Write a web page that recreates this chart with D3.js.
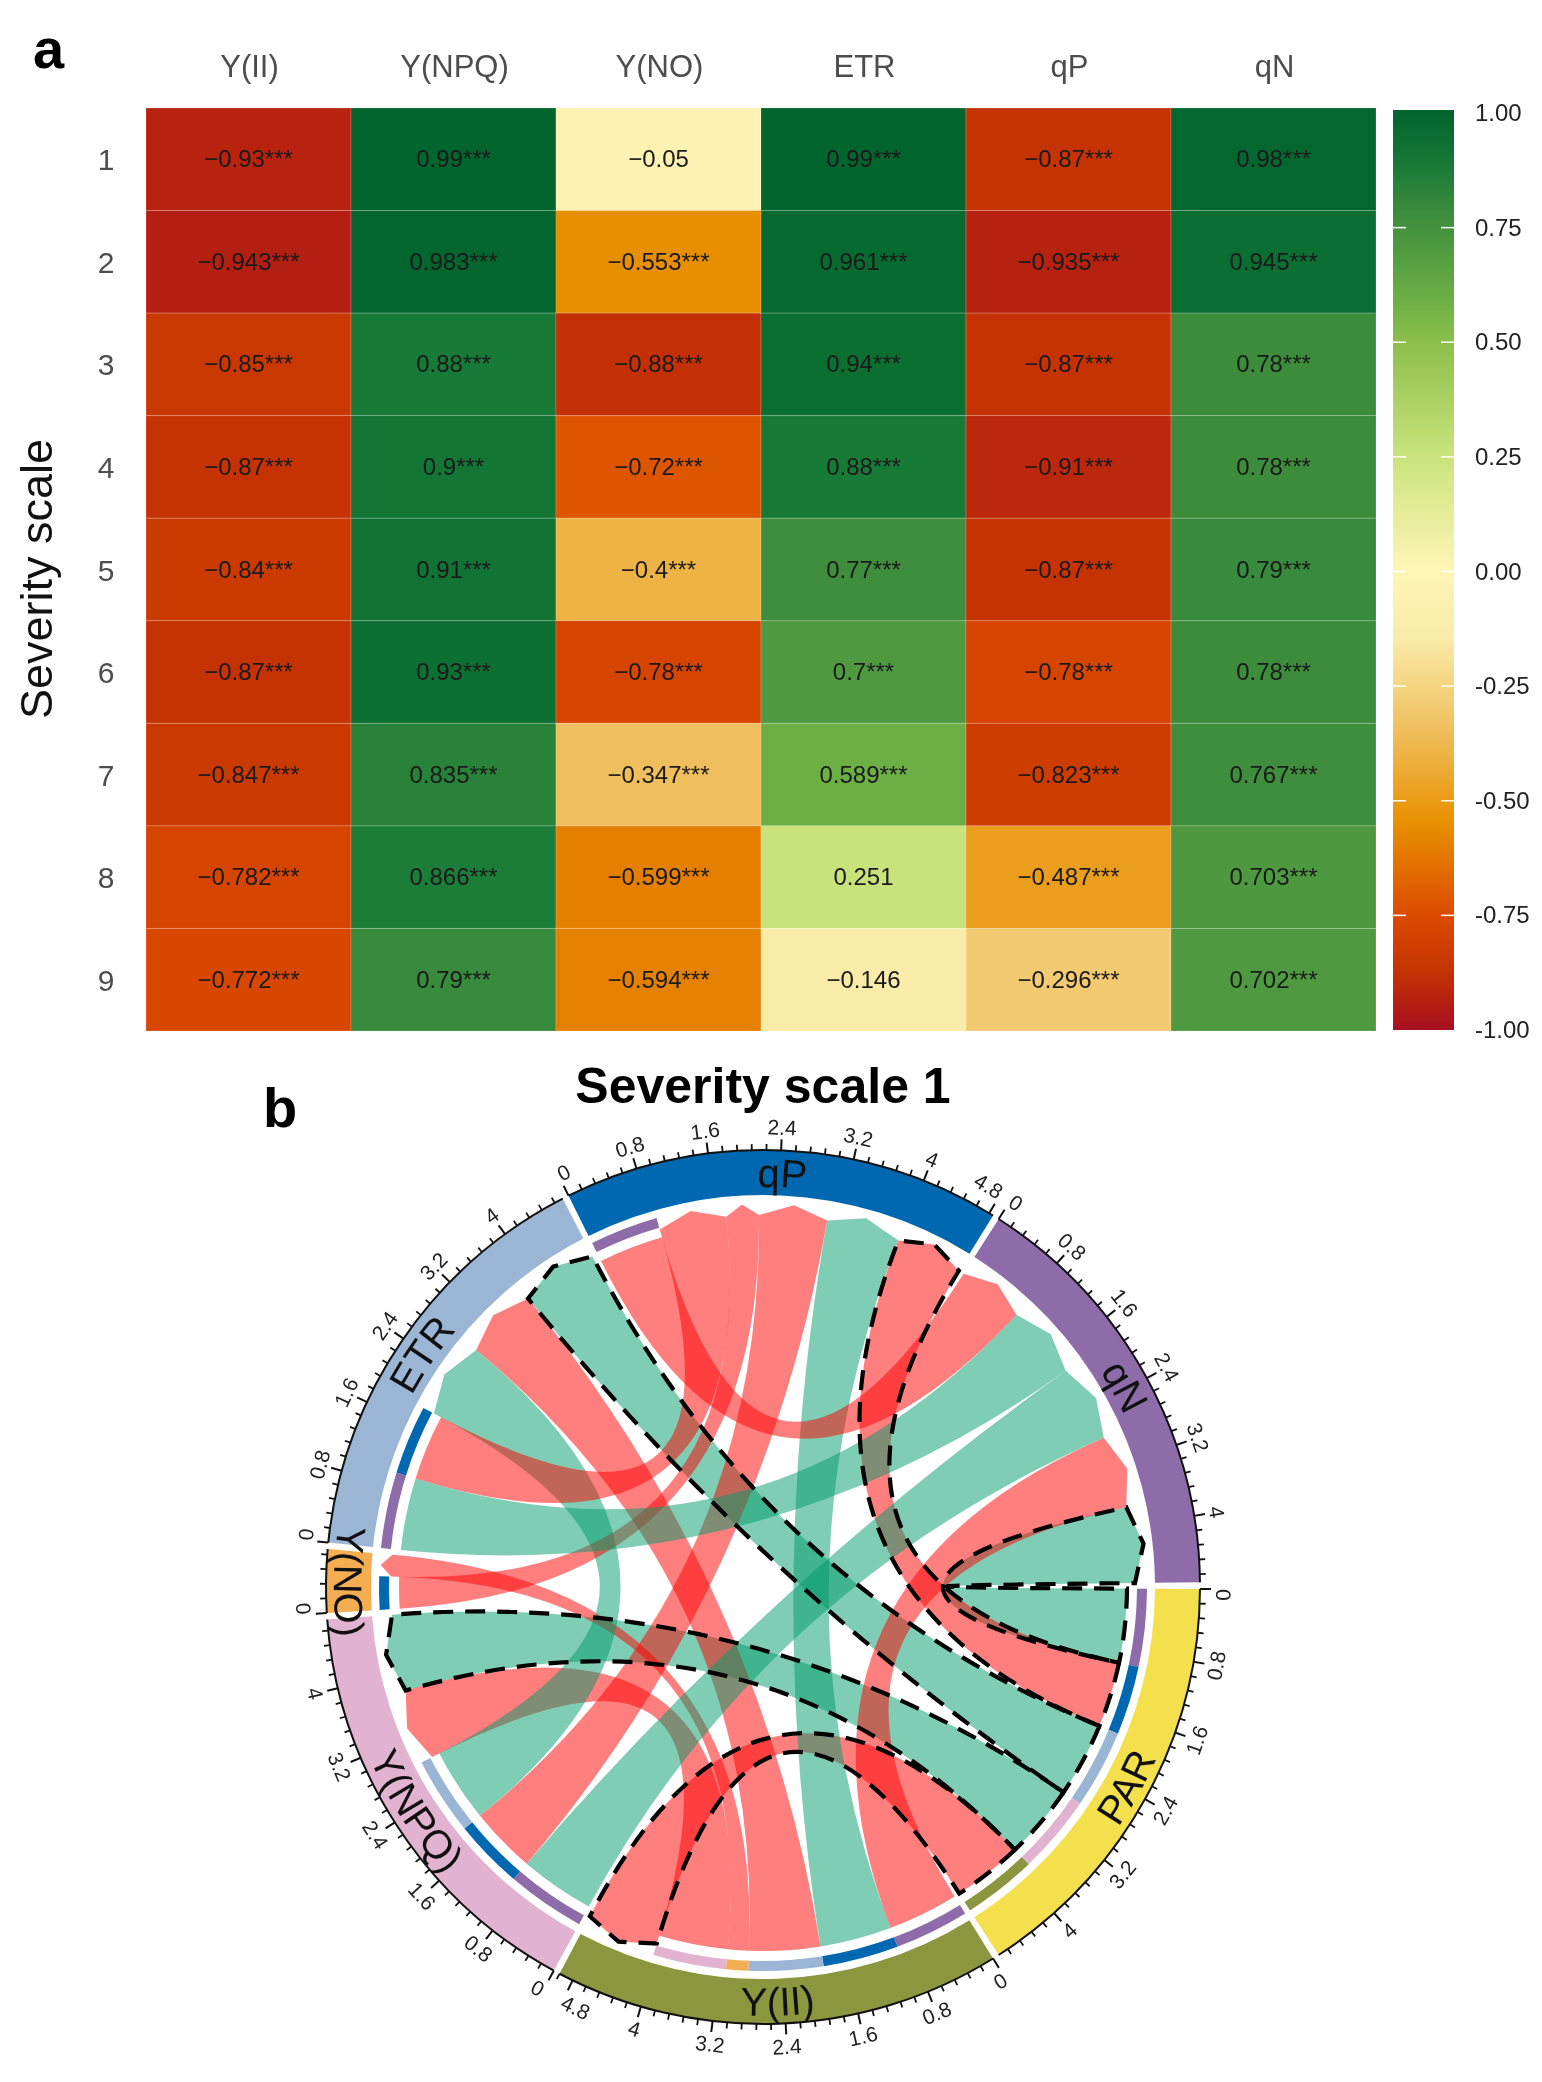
<!DOCTYPE html>
<html><head><meta charset="utf-8">
<script src="https://cdn.jsdelivr.net/npm/d3@7"></script>
<style>html,body{margin:0;padding:0;background:#fff}svg{display:block;filter:blur(0.55px)}text{font-family:"Liberation Sans",Arial,sans-serif}</style>
</head><body><svg id="c" width="1542" height="2082"></svg>
<script>
// ---- heat map data ----
const heatColumns = ["Y(II)","Y(NPQ)","Y(NO)","ETR","qP","qN"];
const heatRows = ["1","2","3","4","5","6","7","8","9"];
const colYII  = [-0.93,-0.943,-0.85,-0.87,-0.84,-0.87,-0.847,-0.782,-0.772];
const colYNPQ = [0.99,0.983,0.88,0.9,0.91,0.93,0.835,0.866,0.79];
const colYNO  = [-0.05,-0.553,-0.88,-0.72,-0.4,-0.78,-0.347,-0.599,-0.594];
const colETR  = [0.99,0.961,0.94,0.88,0.77,0.7,0.589,0.251,-0.146];
const colQP   = [-0.87,-0.935,-0.87,-0.91,-0.87,-0.78,-0.823,-0.487,-0.296];
const colQN   = [0.98,0.945,0.78,0.78,0.79,0.78,0.767,0.703,0.702];
const notSignificant = ["0,2","7,3","8,3"]; // row,col without stars
const legendTicks = [1,0.75,0.5,0.25,0,-0.25,-0.5,-0.75,-1];
const colourStops = [-1,-0.93,-0.85,-0.75,-0.55,-0.35,-0.15,0,0.25,0.5,0.59,0.7,0.78,0.88,1];
const colourValues = ["#A50F22","#B8230F","#C93800","#DC4B00","#E89000","#F0BE5C","#F9EBA8","#FFF6B5","#C9E37C","#8ABE4A","#6CAF45","#4F9A40","#3C8C3C","#177A37","#00632D"];
// ---- chord data ----
const sectorNames = ["PAR","Y(II)","Y(NPQ)","Y(NO)","ETR","qP","qN"];
const sectorColours = ["#F4E04D","#8C963E","#E2B3D1","#F5AD52","#9BB5D5","#0068B0","#8E6CA9"];
const linkFrom = ["PAR","PAR","PAR","PAR","PAR","Y(II)","Y(II)","Y(II)","Y(II)","Y(II)","Y(NPQ)","Y(NPQ)","Y(NPQ)","Y(NO)","ETR","ETR","qP"];
const linkTo   = ["qN","qP","ETR","Y(NPQ)","Y(II)","qN","qP","ETR","Y(NO)","Y(NPQ)","qN","qP","ETR","qP","qN","qP","qN"];
const linkR    = [0.98,-0.87,0.99,0.99,-0.93,-0.94,0.95,-0.94,-0.28,-0.92,0.99,-0.88,0.98,-0.42,0.96,-0.87,-0.86];
const majorStep = 0.8, minorStep = 0.16;

const svg = d3.select("#c");
// ---- panel a ----
const heatCols = [colYII,colYNPQ,colYNO,colETR,colQP,colQN];
const x = d3.scaleBand().domain(heatColumns).range([146,1376]);
const y = d3.scaleBand().domain(heatRows).range([108,1031]);
const colour = d3.scaleLinear().domain(colourStops).range(colourValues).clamp(true);
const g = svg.append("g");
heatColumns.forEach((c,ci)=>heatRows.forEach((r,ri)=>{
  const v = heatCols[ci][ri];
  g.append("rect").attr("x",x(c)).attr("y",y(r)).attr("width",x.bandwidth()).attr("height",y.bandwidth())
    .attr("fill",colour(v)).attr("stroke","#fff").attr("stroke-opacity",0.18).attr("stroke-width",1);
  const star = notSignificant.includes(ri+","+ci) ? "" : "***";
  g.append("text").attr("x",x(c)+x.bandwidth()/2).attr("y",y(r)+y.bandwidth()/2+8).attr("text-anchor","middle")
    .attr("font-size",24).attr("fill","#1a1a1a").text((v<0?"\u2212":"")+Math.abs(v)+star);
}));
heatColumns.forEach(c=>g.append("text").attr("x",x(c)+x.bandwidth()/2+1).attr("y",77).attr("text-anchor","middle")
  .attr("font-size",31).attr("fill","#4d4d4d").text(c));
heatRows.forEach(r=>g.append("text").attr("x",106).attr("y",y(r)+y.bandwidth()/2+11).attr("text-anchor","middle")
  .attr("font-size",30).attr("fill","#4d4d4d").text(r));
g.append("text").attr("transform","translate(52,579) rotate(-90)").attr("text-anchor","middle").attr("font-size",45).attr("fill","#111").text("Severity scale");
svg.append("text").attr("x",33).attr("y",68).attr("font-size",56).attr("font-weight","bold").attr("fill","#000").text("a");
svg.append("text").attr("x",263).attr("y",1127).attr("font-size",56).attr("font-weight","bold").attr("fill","#000").text("b");
// legend
const ly = d3.scaleLinear().domain([1,-1]).range([113,1030]);
const defs = svg.append("defs");
const lg = defs.append("linearGradient").attr("id","lg").attr("x1",0).attr("x2",0).attr("y1",0).attr("y2",1);
d3.range(0,41).forEach(i=>{const v=1-i/20; lg.append("stop").attr("offset",(i/40)).attr("stop-color",colour(v));});
svg.append("rect").attr("x",1393).attr("y",ly(1)-3).attr("width",61).attr("height",ly(-1)-ly(1)+3).attr("fill","url(#lg)");
legendTicks.forEach(t=>{
  if(Math.abs(t)<1){
    [[1393,1406],[1441,1454]].forEach(p=>svg.append("line").attr("x1",p[0]).attr("x2",p[1]).attr("y1",ly(t)).attr("y2",ly(t)).attr("stroke","#fff").attr("stroke-width",1.5));
  }
  svg.append("text").attr("x",1475).attr("y",ly(t)+8).attr("font-size",24).attr("fill","#222").text(t.toFixed(2));
});
// ---- panel b ----
svg.append("text").attr("x",763).attr("y",1103).attr("text-anchor","middle").attr("font-size",50).attr("font-weight","bold").attr("fill","#000").text("Severity scale 1");
const cx=763, cy=1587, R=437, bandIn=392, stripOut=384, stripIn=374, srcR=364, tgtR=372, tipR=383;
const chord = svg.append("g").attr("transform",`translate(${cx},${cy})`);
const nS = sectorNames.length;
const links = linkFrom.map((f,i)=>({s:sectorNames.indexOf(f),t:sectorNames.indexOf(linkTo[i]),r:linkR[i],v:Math.abs(linkR[i])}));
const totals = sectorNames.map((n,i)=>d3.sum(links.filter(l=>l.s===i||l.t===i),l=>l.v));
const gapDeg = (360-d3.sum(totals)*12)/nS;
const rad = d=>d*Math.PI/180;
let cursor = 90.25;
const sectors = sectorNames.map((n,i)=>{
  const a0=cursor, a1=cursor+totals[i]*12; cursor=a1+gapDeg;
  return {i,name:n,a0,a1,total:totals[i],scale:d3.scaleLinear().domain([0,totals[i]]).range([rad(a0),rad(a1)])};
});
// positions within each sector: outgoing links first, then incoming, each by descending partner index
sectors.forEach(sec=>{
  let pos=0;
  const out=links.filter(l=>l.s===sec.i).sort((p,q)=>q.t-p.t);
  const inc=links.filter(l=>l.t===sec.i).sort((p,q)=>q.s-p.s);
  out.forEach(l=>{l.sa=[sec.scale(pos),sec.scale(pos+l.v)];pos+=l.v;});
  inc.forEach(l=>{l.ta=[sec.scale(pos),sec.scale(pos+l.v)];pos+=l.v;});
});
const pt=(r,a)=>[r*Math.sin(a),-r*Math.cos(a)];
const linkPath=l=>{
  const p=d3.path();
  const s0=pt(srcR,l.sa[0]);
  p.moveTo(s0[0],s0[1]);
  p.arc(0,0,srcR,l.sa[0]-Math.PI/2,l.sa[1]-Math.PI/2,false);
  const t0=pt(tgtR,l.ta[0]),t1=pt(tgtR,l.ta[1]),tip=pt(tipR,(l.ta[0]+l.ta[1])/2);
  p.quadraticCurveTo(0,0,t0[0],t0[1]);
  p.lineTo(tip[0],tip[1]);
  p.lineTo(t1[0],t1[1]);
  p.quadraticCurveTo(0,0,s0[0],s0[1]);
  p.closePath();
  return p.toString();
};
links.forEach(l=>chord.append("path").attr("d",linkPath(l))
  .attr("fill",l.r>0?"rgba(0,155,105,0.5)":"rgba(255,0,0,0.5)"));
links.filter(l=>l.s===0).forEach(l=>chord.append("path").attr("d",linkPath(l))
  .attr("fill","none").attr("stroke","#000").attr("stroke-width",4.2).attr("stroke-dasharray","20 12"));
// strips
const arc=d3.arc();
links.forEach(l=>chord.append("path").attr("d",arc({innerRadius:stripIn,outerRadius:stripOut,startAngle:l.sa[0],endAngle:l.sa[1]})).attr("fill",sectorColours[l.t]));
// bands, axes, names
sectors.forEach(sec=>{
  chord.append("path").attr("d",arc({innerRadius:bandIn,outerRadius:R,startAngle:rad(sec.a0),endAngle:rad(sec.a1)})).attr("fill",sectorColours[sec.i]);
  chord.append("path").attr("d",d3.arc()({innerRadius:R,outerRadius:R,startAngle:rad(sec.a0),endAngle:rad(sec.a1)})).attr("fill","none").attr("stroke","#111").attr("stroke-width",2);
  const tickCount=Math.floor(sec.total/minorStep+1e-6);
  d3.range(0,tickCount+1).forEach(k=>{
    const v=k*minorStep, isMajor=k%5===0, a=sec.scale(v);
    const p0=pt(R,a),p1=pt(R+(isMajor?11:6),a);
    chord.append("line").attr("x1",p0[0]).attr("y1",p0[1]).attr("x2",p1[0]).attr("y2",p1[1]).attr("stroke","#111").attr("stroke-width",isMajor?2:1.8);
    if(isMajor){
      const m=pt(R+23,a), d=a*180/Math.PI%360, flip=d>90&&d<=270, rot=flip?d-180:d;
      const atStart=k===0, atEnd=sec.total-v<0.2;
      const anchor=atStart?(flip?"end":"start"):atEnd?(flip?"start":"end"):"middle";
      chord.append("text").attr("transform",`translate(${m[0]},${m[1]}) rotate(${rot})`)
        .attr("text-anchor",anchor).attr("dominant-baseline","central").attr("font-size",21).attr("fill","#222")
        .text(d3.format("~g")(+v.toFixed(2)));
    }
  });
  const midD=((sec.a0+sec.a1)/2)%360, mid=rad(midD), flip=midD>90&&midD<=272;
  const r=flip?429:400, s=rad(70);
  const p=d3.path();
  if(flip){p.moveTo(...pt(r,mid+s));p.arc(0,0,r,mid+s-Math.PI/2,mid-s-Math.PI/2,true);}
  else{p.moveTo(...pt(r,mid-s));p.arc(0,0,r,mid-s-Math.PI/2,mid+s-Math.PI/2,false);}
  defs.append("path").attr("id","np"+sec.i).attr("d",p.toString()).attr("transform",`translate(${cx},${cy})`);
  svg.append("text").attr("font-size",40).attr("fill","#111").attr("text-anchor","middle")
    .append("textPath").attr("href","#np"+sec.i).attr("startOffset","50%").text(sec.name);
});
</script></body></html>
